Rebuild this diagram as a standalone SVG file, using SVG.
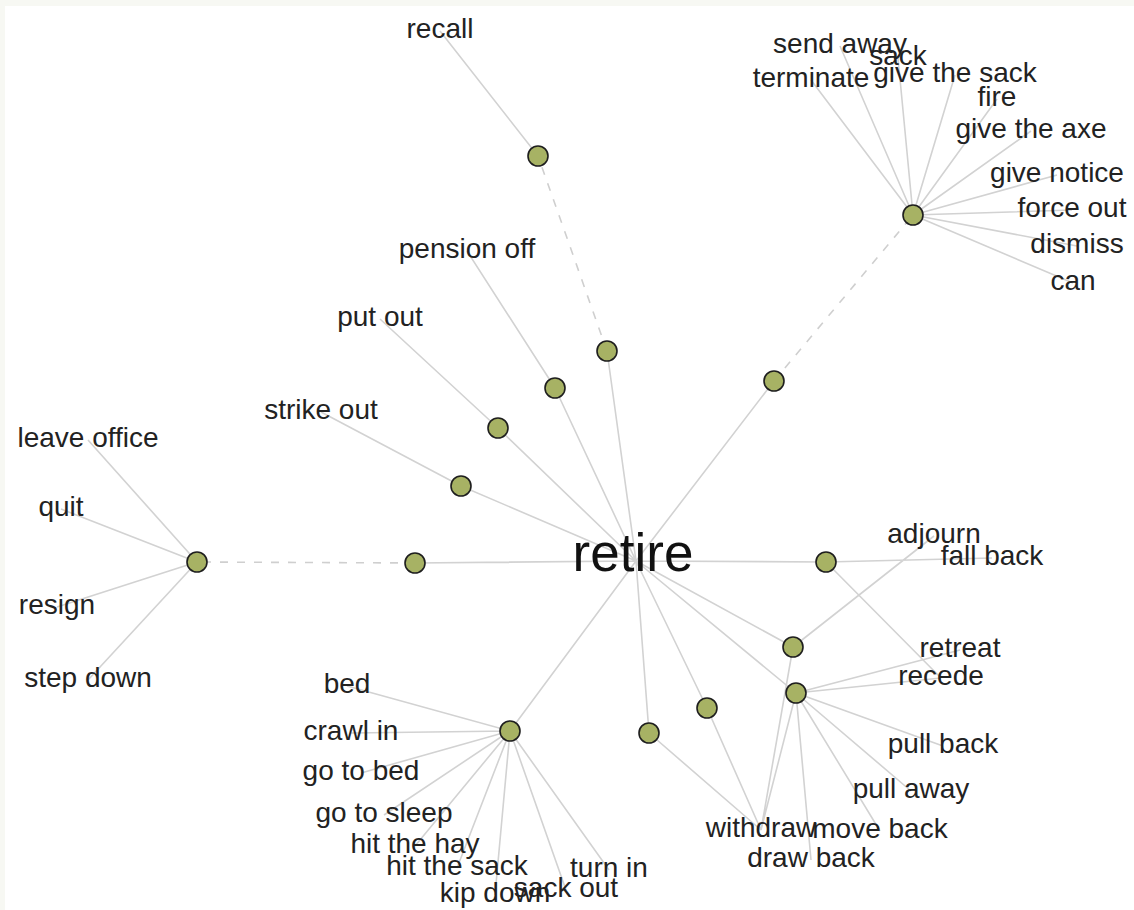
<svg xmlns="http://www.w3.org/2000/svg" width="1134" height="910" viewBox="0 0 1134 910">
<style>
.e{stroke:#d2d2d2;stroke-width:1.6;fill:none}
.d{stroke:#cfcfcf;stroke-width:1.6;stroke-dasharray:8 9;fill:none}
.n{fill:#a7b264;stroke:#1e1e1e;stroke-width:1.6}
.t{font-family:"Liberation Sans",Arial,sans-serif;font-size:28px;fill:#222;text-anchor:middle}
.c{font-family:"Liberation Sans",Arial,sans-serif;font-size:53px;fill:#111;text-anchor:middle}
</style>
<rect width="1134" height="910" fill="#f7f8f3"/>
<rect x="5" y="6" width="1129" height="904" fill="#fff"/>
<g id="connectors">
<path class="e" d="M636 561L607 351M636 561L555 388M636 561L498 428M636 561L461 486M636 561L415 563M636 561L774 381M636 561L826 562M636 561L793 647M636 561L796 693M636 561L707 708M636 561L649 733M636 561L510 731"/>
<path class="d" d="M607 351L538 156M415 563L197 562M774 381L913 215"/>
<path class="e" d="M538 156L440 31M555 388L467 251M498 428L380 319M461 486L321 412"/>
<path class="e" d="M197 562L88 440M197 562L61 509M197 562L57 607M197 562L88 680"/>
<path class="e" d="M913 215L840 46M913 215L898 58M913 215L811 80M913 215L955 75M913 215L997 99M913 215L1031 131M913 215L1057 175M913 215L1072 210M913 215L1077 246M913 215L1073 283"/>
<path class="e" d="M510 731L347 686M510 731L351 733M510 731L361 773M510 731L384 815M510 731L415 846M510 731L457 868M510 731L495 895M510 731L566 890M510 731L609 870"/>
<path class="e" d="M826 562L992 558M826 562L941 678M793 647L934 536M793 647L761 830M796 693L960 650M796 693L941 678M796 693L943 746M796 693L911 791M796 693L880 831M796 693L811 860M796 693L761 830M707 708L761 830M649 733L761 830"/>
</g>
<g id="retire"><text class="c" x="633" y="571">retire</text></g>
<g id="n1"><circle class="n" cx="538" cy="156" r="10"/></g>
<g id="n2"><circle class="n" cx="607" cy="351" r="10"/></g>
<g id="n3"><circle class="n" cx="555" cy="388" r="10"/></g>
<g id="n4"><circle class="n" cx="498" cy="428" r="10"/></g>
<g id="n5"><circle class="n" cx="461" cy="486" r="10"/></g>
<g id="n6"><circle class="n" cx="415" cy="563" r="10"/></g>
<g id="n7"><circle class="n" cx="197" cy="562" r="10"/></g>
<g id="n8"><circle class="n" cx="774" cy="381" r="10"/></g>
<g id="n9"><circle class="n" cx="913" cy="215" r="10"/></g>
<g id="n10"><circle class="n" cx="826" cy="562" r="10"/></g>
<g id="n11"><circle class="n" cx="793" cy="647" r="10"/></g>
<g id="n12"><circle class="n" cx="796" cy="693" r="10"/></g>
<g id="n13"><circle class="n" cx="707" cy="708" r="10"/></g>
<g id="n14"><circle class="n" cx="649" cy="733" r="10"/></g>
<g id="n15"><circle class="n" cx="510" cy="731" r="10"/></g>
<g id="labels">
<g id="l-recall"><text class="t" x="440" y="38">recall</text></g>
<g id="l-pension-off"><text class="t" x="467" y="258">pension off</text></g>
<g id="l-put-out"><text class="t" x="380" y="326">put out</text></g>
<g id="l-strike-out"><text class="t" x="321" y="419">strike out</text></g>
<g id="l-leave-office"><text class="t" x="88" y="447">leave office</text></g>
<g id="l-quit"><text class="t" x="61" y="516">quit</text></g>
<g id="l-resign"><text class="t" x="57" y="614">resign</text></g>
<g id="l-step-down"><text class="t" x="88" y="687">step down</text></g>
<g id="l-send-away"><text class="t" x="840" y="53">send away</text></g>
<g id="l-sack"><text class="t" x="898" y="65">sack</text></g>
<g id="l-terminate"><text class="t" x="811" y="87">terminate</text></g>
<g id="l-give-the-sack"><text class="t" x="955" y="82">give the sack</text></g>
<g id="l-fire"><text class="t" x="997" y="106">fire</text></g>
<g id="l-give-the-axe"><text class="t" x="1031" y="138">give the axe</text></g>
<g id="l-give-notice"><text class="t" x="1057" y="182">give notice</text></g>
<g id="l-force-out"><text class="t" x="1072" y="217">force out</text></g>
<g id="l-dismiss"><text class="t" x="1077" y="253">dismiss</text></g>
<g id="l-can"><text class="t" x="1073" y="290">can</text></g>
<g id="l-bed"><text class="t" x="347" y="693">bed</text></g>
<g id="l-crawl-in"><text class="t" x="351" y="740">crawl in</text></g>
<g id="l-go-to-bed"><text class="t" x="361" y="780">go to bed</text></g>
<g id="l-go-to-sleep"><text class="t" x="384" y="822">go to sleep</text></g>
<g id="l-hit-the-hay"><text class="t" x="415" y="853">hit the hay</text></g>
<g id="l-hit-the-sack"><text class="t" x="457" y="875">hit the sack</text></g>
<g id="l-kip-down"><text class="t" x="495" y="902">kip down</text></g>
<g id="l-sack-out"><text class="t" x="566" y="897">sack out</text></g>
<g id="l-turn-in"><text class="t" x="609" y="877">turn in</text></g>
<g id="l-adjourn"><text class="t" x="934" y="543">adjourn</text></g>
<g id="l-fall-back"><text class="t" x="992" y="565">fall back</text></g>
<g id="l-retreat"><text class="t" x="960" y="657">retreat</text></g>
<g id="l-recede"><text class="t" x="941" y="685">recede</text></g>
<g id="l-pull-back"><text class="t" x="943" y="753">pull back</text></g>
<g id="l-pull-away"><text class="t" x="911" y="798">pull away</text></g>
<g id="l-withdraw"><text class="t" x="761" y="837">withdraw</text></g>
<g id="l-move-back"><text class="t" x="880" y="838">move back</text></g>
<g id="l-draw-back"><text class="t" x="811" y="867">draw back</text></g>
</g>
</svg>
